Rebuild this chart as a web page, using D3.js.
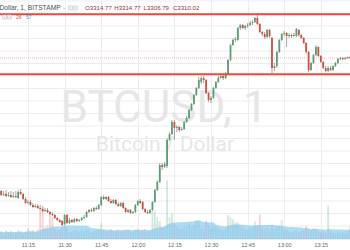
<!DOCTYPE html>
<html>
<head>
<meta charset="utf-8">
<script src="https://cdn.jsdelivr.net/npm/d3@7"></script>
<style>
html, body { margin: 0; padding: 0; background: #fff; overflow: hidden; }
svg { display: block; }
</style>
</head>
<body>
<div id="chart"></div>
<script>
// BITSTAMP:BTCUSD, 1 minute candles, first visible candle 11:03
const startMinute = 3
const opens = [3258.6,3259.0,3257.4,3257.8,3257.0,3257.4,3256.6,3257.0,3256.2,3258.6,
  3257.8,3255.8,3254.2,3254.6,3253.4,3252.6,3253.0,3252.2,3251.8,3251.0,
  3251.4,3250.6,3249.8,3249.4,3248.2,3247.4,3247.0,3245.8,3249.4,3246.2,
  3247.4,3246.6,3247.8,3247.0,3247.4,3248.2,3248.6,3250.6,3251.4,3251.0,
  3252.2,3251.8,3253.4,3256.6,3255.8,3256.6,3255.0,3254.2,3255.4,3253.8,
  3253.0,3254.2,3252.2,3250.6,3251.4,3250.2,3250.6,3253.4,3255.0,3254.6,
  3251.8,3250.6,3250.2,3251.4,3254.6,3259.4,3262.6,3269.4,3268.6,3269.0,
  3279.4,3281.8,3286.6,3284.2,3284.6,3283.4,3283.8,3286.6,3288.2,3291.4,
  3293.8,3297.4,3300.2,3302.6,3304.2,3303.4,3298.2,3295.4,3296.2,3300.2,
  3302.6,3304.2,3305.0,3304.2,3305.8,3311.4,3317.4,3319.4,3319.4,3324.2,
  3325.4,3324.2,3325.0,3325.4,3326.2,3326.6,3328.2,3325.8,3322.6,3321.8,
  3320.6,3323.4,3320.2,3308.2,3309.0,3314.6,3319.4,3321.8,3322.2,3321.0,
  3321.4,3321.0,3321.0,3323.4,3321.4,3320.2,3318.2,3314.6,3307.4,3310.2,
  3313.4,3316.6,3313.0,3310.6,3308.2,3307.0,3308.2,3307.4,3309.0,3310.2,
  3311.8,3312.2,3311.8,3312.2,3312.6]
const highs = [3259.8,3259.4,3259.0,3259.4,3258.6,3259.0,3258.6,3259.0,3259.4,3259.8,
  3258.2,3256.6,3255.4,3255.4,3254.2,3253.8,3253.8,3253.4,3252.6,3252.2,
  3252.2,3251.0,3250.6,3249.8,3248.6,3247.8,3247.4,3249.8,3249.8,3248.2,
  3247.8,3248.2,3248.2,3247.8,3248.6,3249.4,3251.0,3251.8,3252.2,3252.6,
  3253.0,3253.8,3257.0,3257.4,3257.0,3257.0,3255.8,3255.8,3255.8,3254.6,
  3254.6,3254.6,3252.6,3251.8,3251.8,3251.0,3253.8,3255.4,3255.8,3255.0,
  3252.2,3251.4,3251.8,3255.0,3259.8,3263.4,3270.2,3270.2,3270.6,3280.2,
  3282.6,3287.4,3287.4,3285.4,3285.0,3284.6,3287.0,3289.0,3291.8,3294.2,
  3297.8,3300.6,3304.6,3305.0,3305.0,3303.8,3298.6,3297.0,3300.6,3303.0,
  3305.0,3305.8,3305.4,3306.6,3311.8,3317.8,3320.2,3320.6,3324.6,3325.8,
  3325.8,3325.4,3326.2,3327.0,3327.4,3328.6,3330.2,3326.2,3323.0,3322.6,
  3323.8,3323.8,3320.6,3310.2,3315.0,3319.8,3322.2,3323.0,3322.6,3322.2,
  3321.8,3322.2,3324.2,3323.8,3321.8,3320.6,3318.6,3315.0,3310.6,3313.8,
  3317.4,3317.0,3313.4,3311.0,3309.0,3309.0,3309.0,3309.4,3310.6,3312.2,
  3312.6,3312.6,3312.6,3312.8,3313.0]
const lows = [3257.8,3257.0,3257.0,3256.6,3256.6,3256.2,3256.2,3256.2,3255.8,3257.4,
  3255.4,3253.8,3253.8,3253.0,3252.2,3252.2,3251.8,3251.4,3250.6,3250.6,
  3250.2,3249.4,3249.0,3247.8,3247.0,3246.2,3245.0,3245.4,3245.8,3245.8,
  3246.2,3246.2,3246.6,3246.6,3247.0,3247.8,3248.2,3250.2,3250.6,3250.6,
  3251.4,3251.4,3253.0,3255.4,3255.4,3254.6,3253.8,3253.8,3253.4,3252.6,
  3252.6,3251.8,3250.2,3250.2,3249.8,3249.8,3250.2,3253.0,3253.8,3251.4,
  3250.2,3249.8,3249.8,3251.0,3254.2,3259.0,3262.2,3267.4,3268.2,3268.2,
  3279.0,3281.4,3279.4,3282.6,3282.6,3283.0,3283.4,3286.2,3287.8,3291.0,
  3293.4,3297.0,3299.8,3301.8,3302.2,3297.8,3294.6,3294.2,3295.8,3299.8,
  3302.2,3303.8,3303.4,3303.8,3305.4,3311.0,3317.0,3318.6,3319.0,3323.4,
  3323.8,3323.4,3324.2,3325.0,3325.4,3326.2,3325.4,3322.2,3321.0,3319.8,
  3320.2,3320.2,3306.2,3307.0,3308.2,3314.2,3319.0,3321.0,3316.6,3320.2,
  3320.2,3320.6,3320.6,3320.6,3319.8,3317.8,3313.8,3306.6,3307.0,3309.8,
  3313.0,3312.6,3310.2,3307.8,3306.6,3306.6,3307.0,3307.0,3308.6,3309.8,
  3311.4,3311.4,3311.4,3311.8,3311.8]
const closes = [3259.0,3257.4,3257.8,3257.0,3257.4,3256.6,3257.0,3256.6,3258.6,3257.8,
  3255.8,3254.2,3254.6,3253.4,3252.6,3253.0,3252.2,3251.8,3251.0,3251.4,
  3250.6,3249.8,3249.4,3248.2,3247.4,3246.6,3245.4,3249.4,3246.2,3247.4,
  3246.6,3247.8,3247.0,3247.4,3248.2,3248.6,3250.6,3251.4,3251.0,3252.2,
  3251.8,3253.4,3256.6,3255.8,3256.6,3255.0,3254.2,3255.4,3253.8,3253.0,
  3254.2,3252.2,3250.6,3251.4,3250.2,3250.6,3253.4,3255.0,3254.2,3251.8,
  3250.6,3250.2,3251.4,3254.6,3259.4,3262.6,3269.4,3268.6,3269.8,3279.4,
  3281.8,3286.6,3284.2,3284.6,3283.4,3283.8,3286.6,3288.2,3291.4,3293.8,
  3297.4,3300.2,3303.4,3304.2,3303.4,3298.2,3295.4,3296.2,3300.2,3302.6,
  3304.2,3305.0,3304.2,3305.8,3311.4,3317.4,3319.4,3319.8,3324.2,3325.4,
  3324.2,3325.0,3325.4,3326.2,3326.6,3328.2,3325.8,3322.6,3321.8,3320.6,
  3323.4,3321.0,3308.2,3309.0,3314.6,3319.4,3321.8,3322.2,3321.0,3321.4,
  3321.0,3321.4,3323.8,3321.4,3320.2,3318.2,3314.6,3307.4,3310.2,3313.4,
  3316.6,3313.0,3310.6,3308.2,3307.0,3308.2,3307.4,3309.0,3310.2,3311.8,
  3312.2,3311.8,3312.2,3312.6,3312.2]
const volumes = [35,40,30,45,35,40,30,35,45,40,
  30,40,55,40,45,35,50,150,170,60,
  70,130,110,55,45,50,60,80,55,40,
  35,45,40,35,45,40,50,45,35,40,
  45,55,80,50,40,45,50,40,45,50,
  40,45,50,50,40,35,50,55,40,45,
  50,40,45,140,145,110,90,60,65,295,
  110,130,75,60,55,50,60,65,80,60,
  70,95,90,60,55,95,70,55,65,60,
  55,50,45,55,120,110,100,85,85,60,
  55,50,45,55,60,90,70,125,60,50,
  55,50,65,50,60,70,95,45,50,40,
  35,40,45,35,40,45,65,55,45,55,
  55,40,35,40,35,170,40,35,30,40,
  30,35,30,40,65]
const maPeriod = 20
const levels = [3329.7, 3305.7]
const timeTicks = ['11:15', '11:30', '11:45', '12:00', '12:15', '12:30', '12:45', '13:00', '13:15']
const titleText = 'Dollar, 1, BITSTAMP'
const ohlcLabels = ['O3314.77', 'H3314.77', 'L3306.79', 'C3310.02']
const volLegend = ['26', '57']
const watermark = ['BTCUSD, 1', 'Bitcoin / Dollar']

let w = 350,
    h = 250,
    plotBottom = 239.3

const upColor = '#5b9f74',
    downColor = '#d0503f'

let day = new Date(2017, 7, 14, 11, 0)
let atMinute = m => new Date(day.getTime() + m * 60000)
let parseTick = s => new Date(2017, 7, 14, +s.slice(0, 2), +s.slice(3, 5))

let candles = closes.map((c, i) => ({
    time: atMinute(startMinute + i),
    o: opens[i],
    h: highs[i],
    l: lows[i],
    c: c,
    v: volumes[i]
}))
candles.forEach((d, i) => {
    let win = volumes.slice(Math.max(0, i - maPeriod + 1), i + 1)
    d.ma = d3.mean(win)
})

let xScale = d3.scaleTime()
    .domain([atMinute(3.525), atMinute(146.97)])
    .range([0, w])
let yScale = d3.scaleLinear()
    .domain([3240, 3340])
    .range([238.5, -11.5])
let volScale = d3.scaleLinear()
    .domain([0, 500])
    .range([plotBottom, plotBottom - 100])

let svg = d3.select('#chart')
    .append('svg')
    .attr('width', w)
    .attr('height', h)

svg.append('rect').attr('width', w).attr('height', h).attr('fill', '#fff')

// grid
let grid = svg.append('g').attr('stroke', '#ededed').attr('stroke-width', 1)
grid.selectAll('.hgrid')
    .data(yScale.ticks(20))
    .enter()
    .append('line')
    .attr('x1', 0).attr('x2', w)
    .attr('y1', d => yScale(d)).attr('y2', d => yScale(d))
grid.selectAll('.vgrid')
    .data(timeTicks.map(parseTick))
    .enter()
    .append('line')
    .attr('x1', d => Math.round(xScale(d)) + 0.5).attr('x2', d => Math.round(xScale(d)) + 0.5)
    .attr('y1', 0).attr('y2', plotBottom)

// watermark
svg.append('text')
    .text(watermark[0])
    .attr('x', 164).attr('y', 122)
    .attr('text-anchor', 'middle')
    .attr('font-family', 'Roboto, sans-serif')
    .attr('font-size', 44)
    .attr('fill', '#e6e6e6')
svg.append('text')
    .text(watermark[1])
    .attr('x', 165).attr('y', 151)
    .attr('text-anchor', 'middle')
    .attr('font-family', 'Roboto, sans-serif')
    .attr('font-size', 21)
    .attr('fill', '#e6e6e6')

// volume bars + moving average area
let barW = 1.8
svg.append('g')
    .selectAll('rect')
    .data(candles)
    .enter()
    .append('rect')
    .attr('x', d => xScale(d.time) - barW / 2)
    .attr('y', d => volScale(d.v))
    .attr('width', barW)
    .attr('height', d => plotBottom - volScale(d.v))
    .attr('fill', d => d.c >= d.o ? 'rgba(107,180,135,0.3)' : 'rgba(225,110,100,0.3)')

let maArea = d3.area()
    .x(d => xScale(d.time))
    .y0(plotBottom)
    .y1(d => volScale(d.ma))
svg.append('path')
    .attr('d', maArea(candles))
    .attr('fill', 'rgba(120,195,240,0.6)')

// candles
let cg = svg.append('g')
cg.selectAll('line')
    .data(candles)
    .enter()
    .append('line')
    .attr('x1', d => xScale(d.time)).attr('x2', d => xScale(d.time))
    .attr('y1', d => yScale(d.h)).attr('y2', d => yScale(d.l))
    .attr('stroke', '#8f8f8f')
    .attr('stroke-width', 0.8)
cg.selectAll('rect')
    .data(candles)
    .enter()
    .append('rect')
    .attr('x', d => xScale(d.time) - barW / 2)
    .attr('y', d => yScale(Math.max(d.o, d.c)))
    .attr('width', barW)
    .attr('height', d => Math.max(0.8, Math.abs(yScale(d.o) - yScale(d.c))))
    .attr('fill', d => d.c >= d.o ? upColor : downColor)

// drawn levels and last price line
svg.selectAll('.level')
    .data(levels)
    .enter()
    .append('line')
    .attr('x1', 0).attr('x2', w)
    .attr('y1', d => yScale(d)).attr('y2', d => yScale(d))
    .attr('stroke', '#ec4a3b')
    .attr('stroke-width', 2)
let last = candles[candles.length - 1].c
svg.append('line')
    .attr('x1', 0).attr('x2', w)
    .attr('y1', yScale(last)).attr('y2', yScale(last))
    .attr('stroke', 'rgba(235,90,80,0.7)')
    .attr('stroke-width', 0.6)
    .attr('stroke-dasharray', '1,1')

// time axis
let xAxisGen = d3.axisBottom(xScale)
    .tickValues(timeTicks.map(parseTick))
    .tickFormat(d3.timeFormat('%H:%M'))
    .tickSize(0)
    .tickPadding(3.5)
svg.append('g')
    .attr('transform', `translate(0,${plotBottom})`)
    .call(xAxisGen)
    .call(g => g.select('.domain').remove())
    .selectAll('text')
    .attr('font-family', 'Liberation Sans, Arial, sans-serif')
    .attr('font-size', 5.5)
    .attr('fill', '#666')

// header legend
let hdr = svg.append('g').attr('font-family', 'Liberation Sans, Arial, sans-serif')
hdr.append('text')
    .text(titleText)
    .attr('x', -0.5).attr('y', 9.5)
    .attr('font-size', 6.7)
    .attr('fill', '#4d4d4d')
hdr.append('text').text('-').attr('x', 63).attr('y', 9.5).attr('font-size', 6.7).attr('fill', '#aaa')
hdr.selectAll('.ico')
    .data([68.5, 73.5, 2.5, 7.5])
    .enter()
    .append('rect')
    .attr('x', d => d)
    .attr('y', (d, i) => i < 2 ? 6 : 15)
    .attr('width', 4).attr('height', 4)
    .attr('fill', '#eee')
    .attr('stroke', '#c8c8c8')
    .attr('stroke-width', 0.6)
hdr.selectAll('.ohlc')
    .data(ohlcLabels)
    .enter()
    .append('text')
    .text(d => d)
    .attr('x', (d, i) => 85 + i * 29.3)
    .attr('y', 9.5)
    .attr('font-size', 6.1)
    .attr('fill', '#8e3a34')
hdr.selectAll('.vol')
    .data(volLegend)
    .enter()
    .append('text')
    .text(d => d)
    .attr('x', (d, i) => 16 + i * 10)
    .attr('y', 19)
    .attr('font-size', 5)
    .attr('fill', (d, i) => i === 0 ? '#d0503f' : '#3a9be0')
</script>
</body>
</html>
